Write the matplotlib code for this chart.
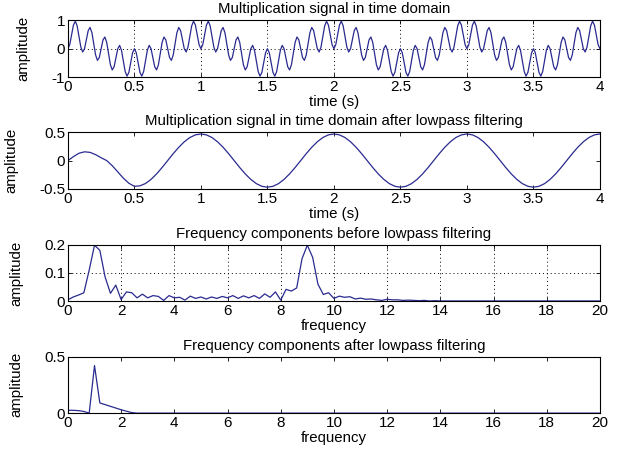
import numpy as np
import matplotlib
matplotlib.use('Agg')
import matplotlib.pyplot as plt

plt.rcParams['font.family'] = ['Liberation Sans', 'DejaVu Sans']

# ---- data ----
# one 1-second period of the multiplication signal (sampled every 1/72 s)
mult_period = [0.0, 0.1445, 0.4924, 0.8366, 0.9698, 0.8068, 0.4330, 0.0560,
               -0.1170, 0.0, 0.3214, 0.6404, 0.75, 0.5649, 0.1710, -0.2242,
               -0.4132, -0.3100, 0.0, 0.3100, 0.4132, 0.2242, -0.1710, -0.5649,
               -0.75, -0.6404, -0.3214, 0.0, 0.1170, -0.0560, -0.4330, -0.8068,
               -0.9698, -0.8366, -0.4924, -0.1445, 0.0, -0.1445, -0.4924, -0.8366,
               -0.9698, -0.8068, -0.4330, -0.0560, 0.1170, 0.0, -0.3214, -0.6404,
               -0.75, -0.5649, -0.1710, 0.2242, 0.4132, 0.3100, 0.0, -0.3100,
               -0.4132, -0.2242, 0.1710, 0.5649, 0.75, 0.6404, 0.3214, 0.0,
               -0.1170, 0.0560, 0.4330, 0.8068, 0.9698, 0.8366, 0.4924, 0.1445]
n_periods = 4

# filtered signal, sampled every 1/24 s: first second (with start-up transient)
filt_first = [0.0, 0.07, 0.13, 0.155, 0.145, 0.105, 0.05, 0.0,
              -0.09, -0.20, -0.31, -0.40, -0.455, -0.445, -0.405, -0.332,
              -0.235, -0.122, 0.0, 0.122, 0.235, 0.332, 0.407, 0.454]
# steady-state period of the filtered signal
filt_period = [0.47, 0.454, 0.407, 0.332, 0.235, 0.122, 0.0, -0.122,
               -0.235, -0.332, -0.407, -0.454, -0.47, -0.454, -0.407, -0.332,
               -0.235, -0.122, 0.0, 0.122, 0.235, 0.332, 0.407, 0.454]

freq_step = 0.2
spec_before = [0.005, 0.015, 0.022, 0.03, 0.11, 0.198, 0.18, 0.085, 0.028, 0.057,
               0.006, 0.033, 0.03, 0.012, 0.025, 0.012, 0.02, 0.017, 0.003, 0.02,
               0.012, 0.014, 0.004, 0.018, 0.01, 0.015, 0.008, 0.015, 0.01, 0.017,
               0.012, 0.02, 0.01, 0.019, 0.012, 0.02, 0.01, 0.026, 0.014, 0.033,
               0.004, 0.042, 0.036, 0.047, 0.15, 0.198, 0.155, 0.06, 0.024, 0.03,
               0.01, 0.018, 0.014, 0.016, 0.008, 0.011, 0.007, 0.008, 0.005, 0.003,
               0.007, 0.005, 0.005, 0.003, 0.004, 0.003, 0.002, 0.003, 0.001, 0.002,
               0.001, 0.001, 0.001, 0.001, 0.001, 0.001, 0.001, 0.001, 0.001, 0.001,
               0.001, 0.001, 0.001, 0.001, 0.001, 0.001, 0.001, 0.001, 0.001, 0.001,
               0.001, 0.001, 0.001, 0.001, 0.001, 0.001, 0.001, 0.001, 0.001, 0.001,
               0.001]
spec_after = [0.025, 0.025, 0.022, 0.015, 0.0, 0.42, 0.09, 0.075, 0.06, 0.045,
              0.03, 0.017, 0.005, 0.0, 0.0, 0.0, 0.0, 0.0, 0.0, 0.0,
              0.0, 0.0, 0.0, 0.0, 0.0, 0.0, 0.0, 0.0, 0.0, 0.0,
              0.0, 0.0, 0.0, 0.0, 0.0, 0.0, 0.0, 0.0, 0.0, 0.0,
              0.0, 0.0, 0.0, 0.0, 0.0, 0.0, 0.0, 0.0, 0.0, 0.0,
              0.0, 0.0, 0.0, 0.0, 0.0, 0.0, 0.0, 0.0, 0.0, 0.0,
              0.0, 0.0, 0.0, 0.0, 0.0, 0.0, 0.0, 0.0, 0.0, 0.0,
              0.0, 0.0, 0.0, 0.0, 0.0, 0.0, 0.0, 0.0, 0.0, 0.0,
              0.0, 0.0, 0.0, 0.0, 0.0, 0.0, 0.0, 0.0, 0.0, 0.0,
              0.0, 0.0, 0.0, 0.0, 0.0, 0.0, 0.0, 0.0, 0.0, 0.0,
              0.0]

titles = ['Multiplication signal in time domain',
          'Multiplication signal in time domain after lowpass filtering',
          'Frequency components before lowpass filtering',
          'Frequency components after lowpass filtering']
xlabels = ['time (s)', 'time (s)', 'frequency', 'frequency']
time_ticks = [0, 0.5, 1, 1.5, 2, 2.5, 3, 3.5, 4]
time_ticklabels = ['0', '0.5', '1', '1.5', '2', '2.5', '3', '3.5', '4']
freq_ticks = [0, 2, 4, 6, 8, 10, 12, 14, 16, 18, 20]
y_ticks = [[-1, 0, 1], [-0.5, 0, 0.5], [0, 0.1, 0.2], [0, 0.5]]
y_ticklabels = [['-1', '0', '1'], ['-0.5', '0', '0.5'], ['0', '0.1', '0.2'], ['0', '0.5']]
y_lims = [(-1, 1), (-0.5, 0.5), (0, 0.2), (0, 0.5)]
x_lims = [(0, 4), (0, 4), (0, 20), (0, 20)]
has_grid = [True, False, True, False]

# ---- assemble series ----
mult = np.concatenate([np.tile(mult_period, n_periods), [mult_period[0]]])
t_mult = np.arange(len(mult)) / len(mult_period)
filt = np.concatenate([filt_first, np.tile(filt_period, n_periods - 1), [filt_period[0]]])
t_filt = np.arange(len(filt)) / len(filt_first)
freqs = np.arange(len(spec_before)) * freq_step

series = [(t_mult, mult), (t_filt, filt), (freqs, np.array(spec_before)), (freqs, np.array(spec_after))]

# ---- figure ----
W, H = 623, 453
fig = plt.figure(figsize=(W / 100, H / 100), dpi=100)
line_color = '#2a2a90'
left, width, height = 0.109, 0.854, 0.125
bottoms = [0.830, 0.583, 0.335, 0.088]
fs = 10.8

for i in range(4):
    ax = fig.add_axes([left, bottoms[i], width, height])
    x, y = series[i]
    ax.plot(x, y, color=line_color, linewidth=0.9)
    ax.set_xlim(*x_lims[i])
    ax.set_ylim(*y_lims[i])
    if i < 2:
        ax.set_xticks(time_ticks)
        ax.set_xticklabels(time_ticklabels)
    else:
        ax.set_xticks(freq_ticks)
        ax.set_xticklabels([str(v) for v in freq_ticks])
    ax.set_yticks(y_ticks[i])
    ax.set_yticklabels(y_ticklabels[i])
    ax.set_title(titles[i], fontsize=fs, pad=5)
    ax.set_xlabel(xlabels[i], fontsize=fs, labelpad=1)
    ax.set_ylabel('amplitude', fontsize=fs, labelpad=15)
    ax.tick_params(direction='in', top=True, right=True, length=3, width=0.6,
                   labelsize=11, pad=2, colors='black')
    for s in ax.spines.values():
        s.set_linewidth(0.8)
        s.set_color('black')
    if has_grid[i]:
        ax.grid(True, color='black', linewidth=0.7, dashes=(1, 3))
    ax.set_axisbelow(True)

fig.savefig('out.png', dpi=100)
